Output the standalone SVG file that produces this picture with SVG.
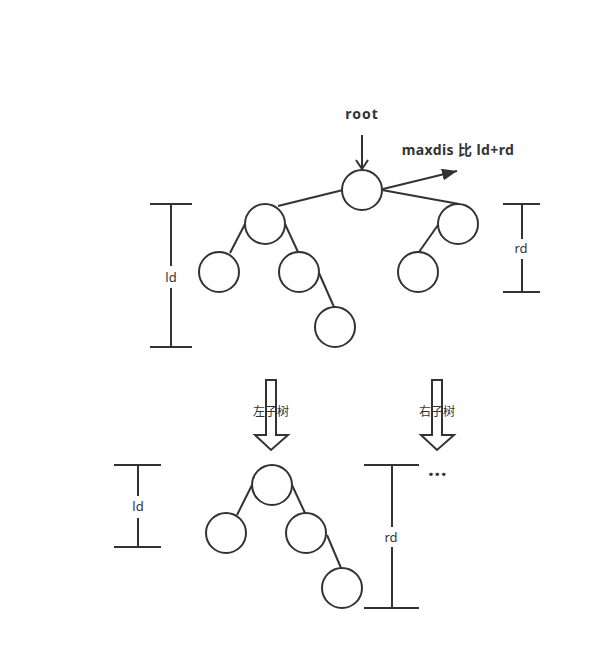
<svg xmlns="http://www.w3.org/2000/svg" width="601" height="670" viewBox="0 0 601 670">
<defs>
<style>
.n{fill:#fff;stroke:#333;stroke-width:2}
.e{stroke:#333;stroke-width:2;fill:none}
.t{font-family:"Noto Sans","Noto Sans CJK SC",sans-serif;fill:#333;text-anchor:middle}
.b{font-weight:bold;font-size:14px}
.s{font-size:12px}
.lab{fill:#fff}
</style>
<marker id="open" markerWidth="14" markerHeight="14" refX="10" refY="7" orient="auto" markerUnits="userSpaceOnUse">
<path d="M1,1 L10,7 L1,13" fill="none" stroke="#333" stroke-width="2"/>
</marker>
<marker id="fill" markerWidth="16" markerHeight="12" refX="15" refY="6" orient="auto" markerUnits="userSpaceOnUse">
<path d="M0,0 L15,6 L0,12 Z" fill="#333"/>
</marker>
</defs>
<rect width="601" height="670" fill="#fff"/>
<g id="connectors">
<line class="e" x1="343" y1="190" x2="278" y2="206"/>
<line class="e" x1="382" y1="190" x2="459" y2="204"/>
<line class="e" x1="245" y1="224" x2="230" y2="253"/>
<line class="e" x1="285" y1="224" x2="298" y2="252"/>
<line class="e" x1="319" y1="273" x2="334" y2="307"/>
<line class="e" x1="438" y1="225" x2="419" y2="252"/>
<line class="e" x1="252" y1="485" x2="237" y2="515"/>
<line class="e" x1="292" y1="485" x2="305" y2="513"/>
<line class="e" x1="327" y1="535" x2="341" y2="568"/>
<line class="e" x1="362" y1="135" x2="362" y2="169" marker-end="url(#open)"/>
<line class="e" x1="383" y1="189" x2="457" y2="171" marker-end="url(#fill)"/>
</g>
<g id="root"><circle class="n" cx="362" cy="190" r="20"/></g>
<g id="a"><circle class="n" cx="265" cy="224" r="20"/></g>
<g id="b"><circle class="n" cx="458" cy="224" r="20"/></g>
<g id="c"><circle class="n" cx="219" cy="272" r="20"/></g>
<g id="d"><circle class="n" cx="299" cy="272" r="20"/></g>
<g id="e"><circle class="n" cx="418" cy="272" r="20"/></g>
<g id="f"><circle class="n" cx="335" cy="327" r="20"/></g>
<g id="l0"><circle class="n" cx="272" cy="485" r="20"/></g>
<g id="l1"><circle class="n" cx="226" cy="533" r="20"/></g>
<g id="l2"><circle class="n" cx="306" cy="533" r="20"/></g>
<g id="l3"><circle class="n" cx="342" cy="588" r="20"/></g>
<g id="labels">
<text class="t b" x="362" y="119" letter-spacing="1">root</text>
<text class="t b" x="458" y="155" letter-spacing="0.4">maxdis 比 ld+rd</text>
</g>
<g id="ld-top">
<path class="e" d="M150,204 H192 M171,204 V347 M150,347 H192"/>
<rect class="lab" x="163" y="266" width="16" height="22"/>
<text class="t" x="171" y="282" font-size="13">ld</text>
</g>
<g id="rd-top">
<path class="e" d="M503,204 H540 M522,204 V292 M503,292 H540"/>
<rect class="lab" x="512" y="239" width="20" height="20"/>
<text class="t" x="521" y="253" font-size="13">rd</text>
</g>
<g id="arrow-left">
<path class="n" d="M266,380 H276 V435 H288 L271,450 L255,435 H266 Z"/>
<text class="t s" x="271" y="416">左子树</text>
</g>
<g id="arrow-right">
<path class="n" d="M432,380 H442 V435 H454 L437,450 L421,435 H432 Z"/>
<text class="t s" x="437" y="416">右子树</text>
</g>
<g id="ld-bottom">
<path class="e" d="M114,465 H161 M138,465 V547 M114,547 H161"/>
<rect class="lab" x="130" y="496" width="16" height="22"/>
<text class="t" x="138" y="511" font-size="13">ld</text>
</g>
<g id="rd-bottom">
<path class="e" d="M364,465 H419 M392,465 V608 M364,608 H419"/>
<rect class="lab" x="382" y="527" width="20" height="20"/>
<text class="t" x="391" y="542" font-size="13">rd</text>
</g>
<g id="more">
<text class="t" x="438" y="476" font-size="17" font-weight="900" letter-spacing="1.5">...</text>
</g>
</svg>
